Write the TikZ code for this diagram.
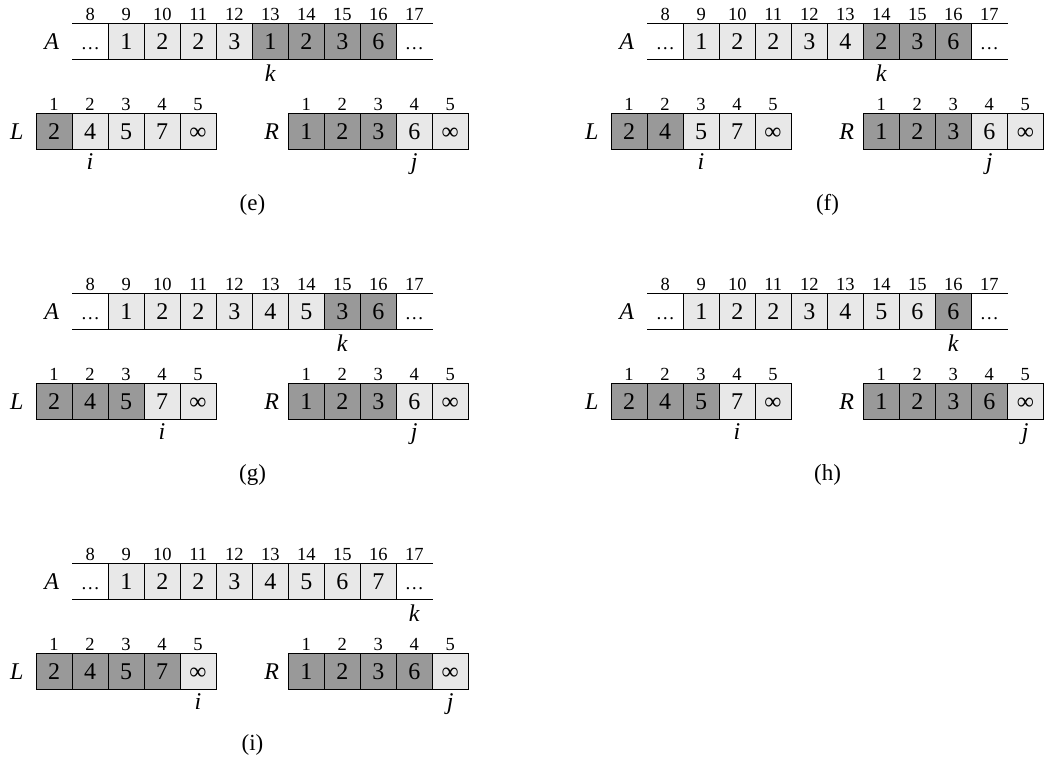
\documentclass[tikz,border=0pt]{standalone}
\usepackage{fontspec}
\setmainfont{Liberation Serif}
\usetikzlibrary{positioning}

\definecolor{cellLight}{gray}{0.91}
\definecolor{cellDark}{gray}{0.6}

\tikzset{
  cellbox/.style={draw=black, line width=0.9pt, minimum width=36pt, minimum height=36pt,
    inner sep=0pt, text height=16pt, text depth=0pt, font=\fontsize{24}{26}\selectfont},
  dotcell/.style={cellbox, draw=none, font=\fontsize{19}{20}\selectfont},
  rowline/.style={line width=0.9pt},
  idxnum/.style={anchor=base, inner sep=0pt, font=\fontsize{18.5}{20}\selectfont},
  arrname/.style={inner sep=0pt, font=\fontsize{24}{26}\selectfont\itshape},
  ptrname/.style={anchor=base, inner sep=0pt, font=\fontsize{24}{26}\selectfont\itshape},
  panelcap/.style={inner sep=0pt, font=\fontsize{23}{25}\selectfont}
}

% one step of the merge: #1 name, #2/#3 offset, #4 A[9..16], #5 k, #6 i, #7 j
\newcommand{\mergestep}[7]{%
  \begin{scope}[shift={(#2,#3)}]
    % --- array A ---
    \draw[rowline] (72.3,23.3) -- (432.7,23.3);
    \draw[rowline] (72.3,59.3) -- (432.7,59.3);
    \node[arrname] (#1-A) at (51.7,41.3) {A};
    \node[dotcell] (#1-A8) at (90.3,41.3) {\ldots};
    \node[dotcell] (#1-A17) at (414.3,41.3) {\ldots};
    \foreach \v [count=\pos from 9] in {#4} {
      \ifnum\pos<#5 \def\cellfill{cellLight}\else\def\cellfill{cellDark}\fi
      \node[cellbox, fill=\cellfill] (#1-A\pos) at ({90.3+36*(\pos-8)},41.3) {\v};
    }
    \foreach \pos in {8,...,17}
      \path (#1-A\pos.north) ++(0,-2.3) node[idxnum] (#1-a\pos) {\pos};
    \path (#1-A#5.south) ++(0,21.5) node[ptrname] (#1-k) {k};

    % --- arrays L and R ---
    \node[arrname] (#1-L) at (16.7,131.5) {L};
    \node[arrname] (#1-R) at (271.7,131.5) {R};
    \foreach \v [count=\pos] in {2,4,5,7,∞} {
      \ifnum\pos<#6 \def\cellfill{cellDark}\else\def\cellfill{cellLight}\fi
      \node[cellbox, fill=\cellfill] (#1-L\pos) at ({54+36*(\pos-1)},131.5) {\v};
      \path (#1-L\pos.north) ++(0,-2.3) node[idxnum] (#1-l\pos) {\pos};
    }
    \foreach \v [count=\pos] in {1,2,3,6,∞} {
      \ifnum\pos<#7 \def\cellfill{cellDark}\else\def\cellfill{cellLight}\fi
      \node[cellbox, fill=\cellfill] (#1-R\pos) at ({306.3+36*(\pos-1)},131.5) {\v};
      \path (#1-R\pos.north) ++(0,-2.3) node[idxnum] (#1-r\pos) {\pos};
    }
    \path (#1-L#6.south) ++(0,19.5) node[ptrname] (#1-i) {i};
    \path (#1-R#7.south) ++(0,19.5) node[ptrname] (#1-j) {j};

    % --- caption ---
    \node[panelcap] (#1-cap) at (252.5,205) {(#1)};
  \end{scope}%
}

\begin{document}
\begin{tikzpicture}[x=1pt, y=-1pt]

    \useasboundingbox (0,0) rectangle (1045,757);

    \mergestep{e}{0}{0}{1,2,2,3,1,2,3,6}{13}{2}{4}
    \mergestep{f}{575}{0}{1,2,2,3,4,2,3,6}{14}{3}{4}
    \mergestep{g}{0}{270}{1,2,2,3,4,5,3,6}{15}{4}{4}
    \mergestep{h}{575}{270}{1,2,2,3,4,5,6,6}{16}{4}{5}
    \mergestep{i}{0}{540}{1,2,2,3,4,5,6,7}{17}{5}{5}

\end{tikzpicture}
\end{document}
